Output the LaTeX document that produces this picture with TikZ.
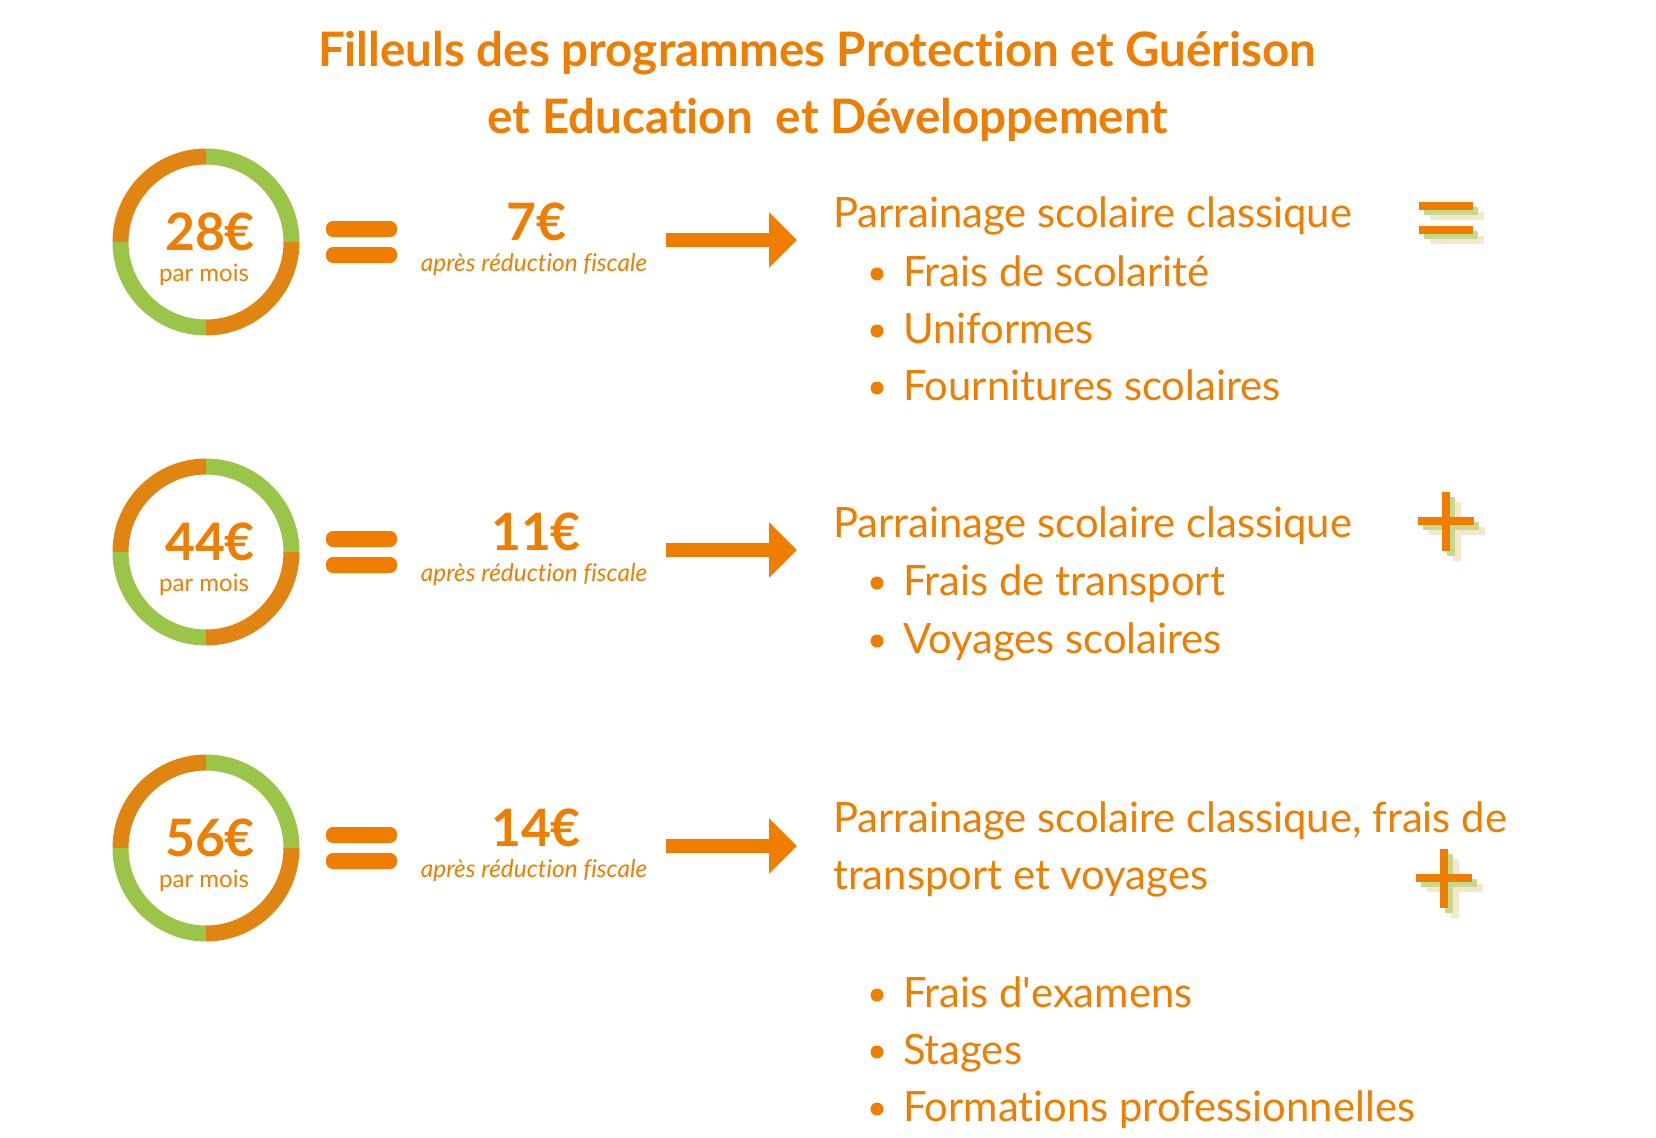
\documentclass[tikz,border=0pt]{standalone}
\usepackage{fontspec}
\setmainfont{Lato}[Ligatures={NoCommon}]
\usetikzlibrary{arrows.meta}
\definecolor{txtor}{HTML}{EF7D00}
\definecolor{ringor}{HTML}{E08412}
\definecolor{ringgr}{HTML}{9BC548}
\definecolor{shbeige}{HTML}{F5E6CC}
\definecolor{shgreen}{HTML}{C5D98C}
\newcommand\bitem[3]{%
  \node[bul] (b#1) at (877,{#2-12}) {};
  \node[bodytxt] (t#1) at (903,#2) {#3};}
\newcommand\plusicon[3]{%
  \foreach \dx/\dy/\col in {11/10/shbeige,5/5/shgreen,0/0/txtor}{%
    \fill[\col] ({#2-4+\dx},{#3-29+\dy}) rectangle ({#2+4+\dx},{#3+30+\dy});
    \fill[\col] ({#2-28+\dx},{#3-4+\dy}) rectangle ({#2+28+\dx},{#3+4+\dy});}
  \coordinate (#1) at (#2,#3);}
\begin{document}
\begin{tikzpicture}[x=1pt,y=-1pt,
  every node/.style={inner sep=0pt,outer sep=0pt,text=txtor},
  titletxt/.style={font=\fontsize{47.5}{56}\selectfont\bfseries, anchor=base},
  bignum/.style={font=\fontsize{51.6}{60}\selectfont\bfseries, anchor=base},
  smalltxt/.style={font=\fontsize{24}{28}\selectfont, anchor=base},
  redtxt/.style={font=\fontsize{24.4}{28}\selectfont\itshape, anchor=base},
  bodytxt/.style={font=\fontsize{41.8}{50}\selectfont, anchor=base west},
  eqbar/.style={fill=txtor, rounded corners=7pt},
  ring/.style={line width=16pt},
  arrowline/.style={draw=txtor, line width=14pt, -{Triangle[length=28pt,width=54pt]}},
  bul/.style={circle, fill=txtor, minimum size=13pt},
]
\useasboundingbox (0,0) rectangle (1656,1137);
% title
\node[titletxt] (title1) at (817,67) {Filleuls des programmes Protection et Guérison};
\node[titletxt] (title2) at (828,133) {et Education \ et Développement};
% rows
\foreach \cy/\a/\b/\n in {242/28/7/a,552/44/11/b,848/56/14/c}{%
  \draw[ring,draw=ringgr] (206,\cy) ++(270:85.5) arc[start angle=270,end angle=360,radius=85.5];
  \draw[ring,draw=ringor] (206,\cy) ++(180:85.5) arc[start angle=180,end angle=270,radius=85.5];
  \draw[ring,draw=ringgr] (206,\cy) ++(90:85.5) arc[start angle=90,end angle=180,radius=85.5];
  \draw[ring,draw=ringor] (206,\cy) ++(0:85.5) arc[start angle=0,end angle=90,radius=85.5];
  \node[circle,minimum size=187pt] (ring\n) at (206,\cy) {};
  \node[bignum] (amt\n) at (210,{\cy+8}) {\a€};
  \node[smalltxt] (pm\n) at (204,{\cy+39}) {par mois};
  \fill[eqbar] (326,{\cy-21}) rectangle (397,{\cy-5});
  \fill[eqbar] (326,{\cy+5}) rectangle (397,{\cy+21});
  \node[bignum] (net\n) at (536,{\cy-2}) {\b€};
  \node[redtxt] (apr\n) at (534,{\cy+29}) {après réduction fiscale};
  \coordinate (as\n) at (666,{\cy-2});
  \coordinate (ae\n) at (797,{\cy-2});
  \draw[arrowline] (as\n) -- (ae\n);
}
% row 1 text
\node[bodytxt] (h1) at (833,227) {Parrainage scolaire classique};
\bitem{11}{286}{Frais de scolarité}
\bitem{12}{343}{Uniformes}
\bitem{13}{400}{Fournitures scolaires}
% row 2 text
\node[bodytxt] (h2) at (833,537) {Parrainage scolaire classique};
\bitem{21}{595}{Frais de transport}
\bitem{22}{653}{Voyages scolaires}
% row 3 text
\node[bodytxt] (h3a) at (833,832) {Parrainage scolaire classique, frais de};
\node[bodytxt] (h3b) at (833,889) {transport et voyages};
\bitem{31}{1007}{Frais d\textquotesingle examens}
\bitem{32}{1064}{Stages}
\bitem{33}{1121}{Formations professionnelles}
% equals icon
\foreach \dx/\dy/\col in {11/10/shbeige,5/5/shgreen,0/0/txtor}{%
  \fill[\col] ({1419+\dx},{202+\dy}) rectangle ({1473+\dx},{210+\dy});
  \fill[\col] ({1419+\dx},{226+\dy}) rectangle ({1473+\dx},{234+\dy});}
\coordinate (eqicon) at (1446,218);
% plus icons
\plusicon{plus2}{1446}{521}
\plusicon{plus3}{1444}{878}
\end{tikzpicture}
\end{document}
